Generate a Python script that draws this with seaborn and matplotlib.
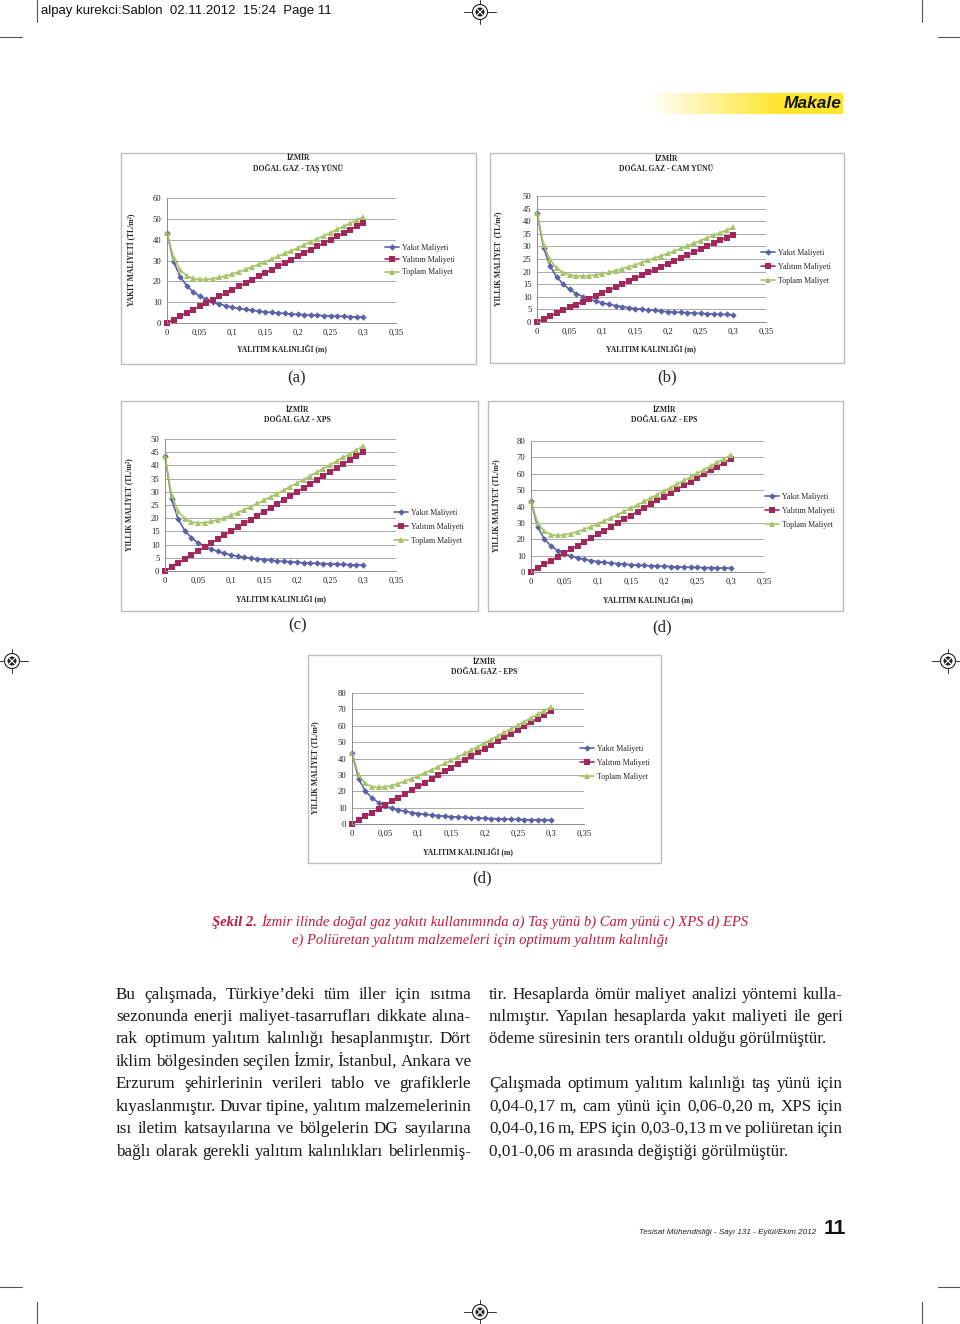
#!/usr/bin/env python3
# coding=utf-8
import matplotlib
matplotlib.use("Agg")
from matplotlib import pyplot as plt
from matplotlib.transforms import Affine2D
from matplotlib.patches import Rectangle, Circle
from matplotlib.lines import Line2D
from matplotlib.colors import LinearSegmentedColormap
import seaborn as sns
import pandas as pd
import numpy as np

# ---- data -------------------------------------------------------------------
THICKNESS = [0, 0.01, 0.02, 0.03, 0.04, 0.05, 0.06, 0.07, 0.08, 0.09, 0.10,
             0.11, 0.12, 0.13, 0.14, 0.15, 0.16, 0.17, 0.18, 0.19, 0.20,
             0.21, 0.22, 0.23, 0.24, 0.25, 0.26, 0.27, 0.28, 0.29, 0.30]

FUEL_TAS = [43.4, 29.5, 22.3, 17.9, 15.0, 12.9, 11.3, 10.1, 9.1, 8.3, 7.6, 7.0, 6.5, 6.1, 5.7, 5.3,
            5.1, 4.8, 4.6, 4.3, 4.1, 4.0, 3.8, 3.7, 3.5, 3.4, 3.3, 3.2, 3.0, 3.0, 2.9]
INS_TAS = [0, 1.6, 3.2, 4.8, 6.4, 8.0, 9.6, 11.2, 12.8, 14.4, 16.0, 17.6, 19.2, 20.8, 22.4, 24.0,
           25.6, 27.2, 28.8, 30.4, 32.0, 33.6, 35.2, 36.8, 38.4, 40.0, 41.6, 43.2, 44.8, 46.4, 48.0]
TOTAL_TAS = [43.4, 31.1, 25.5, 22.7, 21.4, 20.9, 20.9, 21.3, 21.9, 22.7, 23.6, 24.6, 25.7, 26.9, 28.1,
             29.3, 30.7, 32.0, 33.4, 34.7, 36.1, 37.6, 39.0, 40.5, 41.9, 43.4, 44.9, 46.4, 47.8, 49.4, 50.9]

FUEL_CAM = [43.4, 29.5, 22.3, 17.9, 15.0, 12.9, 11.3, 10.1, 9.1, 8.3, 7.6, 7.0, 6.5, 6.1, 5.7, 5.3,
            5.1, 4.8, 4.6, 4.3, 4.1, 4.0, 3.8, 3.7, 3.5, 3.4, 3.3, 3.2, 3.0, 3.0, 2.9]
INS_CAM = [0, 1.2, 2.3, 3.5, 4.6, 5.8, 6.9, 8.1, 9.3, 10.4, 11.6, 12.7, 13.9, 15.0, 16.2, 17.3,
           18.5, 19.7, 20.8, 22.0, 23.1, 24.3, 25.4, 26.6, 27.7, 28.9, 30.1, 31.2, 32.4, 33.5, 34.7]
TOTAL_CAM = [43.4, 30.7, 24.6, 21.4, 19.6, 18.7, 18.2, 18.2, 18.4, 18.7, 19.2, 19.7, 20.4, 21.1, 21.9,
             22.6, 23.6, 24.5, 25.4, 26.3, 27.2, 28.3, 29.2, 30.3, 31.2, 32.3, 33.4, 34.4, 35.4, 36.5, 37.6]

FUEL_XPS = [43.5, 27.1, 19.6, 15.3, 12.6, 10.7, 9.3, 8.3, 7.4, 6.7, 6.1, 5.6, 5.2, 4.9, 4.6, 4.3,
            4.1, 3.8, 3.6, 3.5, 3.3, 3.1, 3.0, 2.9, 2.8, 2.7, 2.6, 2.5, 2.4, 2.3, 2.3]
INS_XPS = [0, 1.5, 3.0, 4.5, 6.0, 7.5, 9.0, 10.5, 12.0, 13.5, 15.0, 16.5, 18.0, 19.5, 21.0, 22.5,
           24.0, 25.5, 27.0, 28.5, 30.0, 31.5, 33.0, 34.5, 36.0, 37.5, 39.0, 40.5, 42.0, 43.5, 45.0]
TOTAL_XPS = [43.5, 28.6, 22.6, 19.8, 18.6, 18.2, 18.3, 18.8, 19.4, 20.2, 21.1, 22.1, 23.2, 24.4, 25.6,
             26.8, 28.1, 29.3, 30.6, 32.0, 33.3, 34.6, 36.0, 37.4, 38.8, 40.2, 41.6, 43.0, 44.4, 45.8, 47.3]

FUEL_EPS = [43.3, 27.5, 20.2, 15.9, 13.1, 11.2, 9.7, 8.6, 7.7, 7.0, 6.4, 5.9, 5.5, 5.1, 4.8, 4.5,
            4.2, 4.0, 3.8, 3.6, 3.5, 3.3, 3.2, 3.0, 2.9, 2.8, 2.7, 2.6, 2.5, 2.5, 2.4]
INS_EPS = [0, 2.3, 4.6, 6.9, 9.2, 11.5, 13.8, 16.1, 18.4, 20.7, 23.0, 25.3, 27.6, 29.9, 32.2, 34.5,
           36.8, 39.1, 41.4, 43.7, 46.0, 48.3, 50.6, 52.9, 55.2, 57.5, 59.8, 62.1, 64.4, 66.7, 69.0]
TOTAL_EPS = [43.3, 29.8, 24.8, 22.8, 22.3, 22.7, 23.5, 24.7, 26.1, 27.7, 29.4, 31.2, 33.1, 35.0, 37.0,
             39.0, 41.0, 43.1, 45.2, 47.3, 49.5, 51.6, 53.8, 55.9, 58.1, 60.3, 62.5, 64.7, 66.9, 69.2, 71.4]

SERIES = ["Yakıt Maliyeti", "Yalıtım Maliyeti", "Toplam Maliyet"]
X_TICKS = [0, 0.05, 0.1, 0.15, 0.2, 0.25, 0.3, 0.35]
X_TICK_LABELS = ["0", "0,05", "0,1", "0,15", "0,2", "0,25", "0,3", "0,35"]

PANELS = [
    dict(name="DOĞAL GAZ - TAŞ YÜNÜ", ylabel="YAKIT MALİYETİ (TL/m²)", tag="(a)",
         data=(FUEL_TAS, INS_TAS, TOTAL_TAS), yticks=[0, 10, 20, 30, 40, 50, 60]),
    dict(name="DOĞAL GAZ - CAM YÜNÜ", ylabel="YILLIK MALİYET  (TL/m²)", tag="(b)",
         data=(FUEL_CAM, INS_CAM, TOTAL_CAM), yticks=[0, 5, 10, 15, 20, 25, 30, 35, 40, 45, 50]),
    dict(name="DOĞAL GAZ - XPS", ylabel="YILLIK MALİYET (TL/m²)", tag="(c)",
         data=(FUEL_XPS, INS_XPS, TOTAL_XPS), yticks=[0, 5, 10, 15, 20, 25, 30, 35, 40, 45, 50]),
    dict(name="DOĞAL GAZ - EPS", ylabel="YILLIK MALİYET (TL/m²)", tag="(d)",
         data=(FUEL_EPS, INS_EPS, TOTAL_EPS), yticks=[0, 10, 20, 30, 40, 50, 60, 70, 80]),
    dict(name="DOĞAL GAZ - EPS", ylabel="YILLIK MALİYET (TL/m²)", tag="(d)",
         data=(FUEL_EPS, INS_EPS, TOTAL_EPS), yticks=[0, 10, 20, 30, 40, 50, 60, 70, 80]),
]

CAPTION_BOLD = "Şekil 2."
CAPTION_1 = "İzmir ilinde doğal gaz yakıtı kullanımında a) Taş yünü b) Cam yünü c) XPS d) EPS"
CAPTION_2 = "e) Poliüretan yalıtım malzemeleri için optimum yalıtım kalınlığı"

LEFT_COLUMN = [
    "Bu çalışmada, Türkiye’deki tüm iller için ısıtma",
    "sezonunda enerji maliyet-tasarrufları dikkate alına-",
    "rak optimum yalıtım kalınlığı hesaplanmıştır. Dört",
    "iklim bölgesinden seçilen İzmir, İstanbul, Ankara ve",
    "Erzurum şehirlerinin verileri tablo ve grafiklerle",
    "kıyaslanmıştır. Duvar tipine, yalıtım malzemelerinin",
    "ısı iletim katsayılarına ve bölgelerin DG sayılarına",
    "bağlı olarak gerekli yalıtım kalınlıkları belirlenmiş-",
]
RIGHT_COLUMN = [
    "tir. Hesaplarda ömür maliyet analizi yöntemi kulla-",
    "nılmıştır. Yapılan hesaplarda yakıt maliyeti ile geri",
    "ödeme süresinin ters orantılı olduğu görülmüştür.",
    "",
    "Çalışmada optimum yalıtım kalınlığı taş yünü için",
    "0,04-0,17 m, cam yünü için 0,06-0,20 m, XPS için",
    "0,04-0,16 m, EPS için 0,03-0,13 m ve poliüretan için",
    "0,01-0,06 m arasında değiştiği görülmüştür.",
]

# ---- page geometry (pixels, origin top left) --------------------------------
W, H = 960, 1324
LAYOUT = [
    dict(box=(121, 153, 476, 364), axes=(167, 198, 396, 323), title=(298, 158), legend=(385, 260),
         xlab=(282, 350), ylab=(131, 260), tag=(297, 378), lspace=0.55),
    dict(box=(490, 153, 844, 363), axes=(537, 196, 766, 322), title=(666, 159), legend=(761, 267),
         xlab=(651, 350), ylab=(498, 259), tag=(667, 377), lspace=0.75),
    dict(box=(121, 401, 478, 611), axes=(165, 439, 396, 571), title=(297, 410), legend=(394, 527),
         xlab=(281, 600), ylab=(129, 505), tag=(298, 625), lspace=0.75),
    dict(box=(488, 401, 843, 611), axes=(531, 441, 764, 572), title=(664, 410), legend=(765, 511),
         xlab=(648, 601), ylab=(496, 506), tag=(662, 627), lspace=0.75),
    dict(box=(308, 655, 661, 863), axes=(352, 693, 584, 824), title=(484, 662), legend=(580, 763),
         xlab=(468, 853), ylab=(315, 768), tag=(482, 878), lspace=0.75),
]
COLORS = {"Yakıt Maliyeti": "#5A62A6", "Yalıtım Maliyeti": "#A2285C", "Toplam Maliyet": "#A8C46A"}
MARKERS = {"Yakıt Maliyeti": "D", "Yalıtım Maliyeti": "s", "Toplam Maliyet": "^"}
MSIZE = {"Yakıt Maliyeti": 3.3, "Yalıtım Maliyeti": 3.7, "Toplam Maliyet": 4.5}

SERIF = ["Liberation Serif", "DejaVu Serif"]
NARROW = ["Liberation Sans Narrow", "Liberation Sans", "DejaVu Sans"]
SANS = ["Liberation Sans", "DejaVu Sans"]
RED = "#C11B3C"

sns.set_style("white")
plt.rcParams["font.family"] = SERIF

fig = plt.figure(figsize=(W / 100, H / 100), dpi=100)
fig.patch.set_facecolor("white")
PX = Affine2D().scale(1 / W, -1 / H).translate(0, 1) + fig.transFigure


def px_rect(x0, y0, x1, y1):
    return [x0 / W, 1 - y1 / H, (x1 - x0) / W, (y1 - y0) / H]


def plot_panel(p, lay):
    df = pd.DataFrame({
        "x": THICKNESS * 3,
        "value": list(p["data"][0]) + list(p["data"][1]) + list(p["data"][2]),
        "series": [s for s in SERIES for _ in THICKNESS],
    })
    bx0, by0, bx1, by1 = lay["box"]
    fig.patches.append(Rectangle((bx0, by0), bx1 - bx0, by1 - by0, transform=PX,
                                 facecolor="white", edgecolor="#BDBDBD", lw=1.0, zorder=-5))
    ax = fig.add_axes(px_rect(*lay["axes"]))
    ax.set_facecolor("none")
    for s in SERIES:
        sns.lineplot(data=df[df["series"] == s], x="x", y="value", ax=ax, color=COLORS[s],
                     marker=MARKERS[s], markersize=MSIZE[s], markeredgewidth=0, linewidth=1.2,
                     clip_on=False, legend=False)
    ax.set_xlim(0, 0.35)
    ax.set_ylim(0, p["yticks"][-1])
    ax.set_xticks(X_TICKS, labels=X_TICK_LABELS)
    ax.set_yticks(p["yticks"])
    ax.tick_params(length=0, labelsize=6.2, pad=4, colors="#222222")
    ax.yaxis.grid(True, color="#A9A9A9", lw=0.7)
    ax.xaxis.grid(False)
    ax.set_axisbelow(True)
    for side in ("top", "right"):
        ax.spines[side].set_visible(False)
    for side in ("left", "bottom"):
        ax.spines[side].set_color("#8C8C8C")
        ax.spines[side].set_linewidth(0.7)

    ax.set_xlabel("YALITIM KALINLIĞI (m)", fontsize=5.5, fontweight="bold")
    ax.xaxis.set_label_coords(*lay["xlab"], transform=PX)
    ax.xaxis.label.set_va("center")
    ax.set_ylabel(p["ylabel"], fontsize=5.5, fontweight="bold")
    ax.yaxis.set_label_coords(*lay["ylab"], transform=PX)
    ax.yaxis.label.set_va("center")

    tx, ty = lay["title"]
    fig.text(tx, ty, "İZMİR", transform=PX, ha="center", va="center", fontsize=5.5, fontweight="bold")
    fig.text(tx, ty + 10, p["name"], transform=PX, ha="center", va="center", fontsize=5.5,
             fontweight="bold")

    handles = [Line2D([], [], color=COLORS[s], marker=MARKERS[s], markersize=MSIZE[s],
                      markeredgewidth=0, lw=1.2) for s in SERIES]
    lx, ly = lay["legend"]
    ax.legend(handles, SERIES, loc="center left", bbox_to_anchor=(lx / W, 1 - ly / H),
              bbox_transform=fig.transFigure, frameon=False, fontsize=5.8, borderpad=0,
              borderaxespad=0, handlelength=1.7, handletextpad=0.4, labelspacing=lay["lspace"])

    gx, gy = lay["tag"]
    fig.text(gx, gy, p["tag"], transform=PX, ha="center", va="center", fontsize=12)


for p, lay in zip(PANELS, LAYOUT):
    plot_panel(p, lay)

renderer = fig.canvas.get_renderer()


def text_width(t):
    return t.get_window_extent(renderer).width


def put_line(text, x0, x1, y, justify, **kw):
    words = text.split(" ")
    if not justify or len(words) < 2:
        fig.text(x0, y, text, transform=PX, ha="left", va="baseline", **kw)
        return
    arts = [fig.text(0, y, w, transform=PX, ha="left", va="baseline", **kw) for w in words]
    widths = [text_width(a) for a in arts]
    gap = (x1 - x0 - sum(widths)) / (len(words) - 1)
    x = x0
    for a, w in zip(arts, widths):
        a.set_x(x)
        x += w + gap


# caption
cap_kw = dict(fontsize=10.55, color=RED, style="italic", family=SERIF)
t_bold = fig.text(0, 926, CAPTION_BOLD, transform=PX, ha="left", va="baseline", fontweight="bold",
                  **cap_kw)
t_rest = fig.text(0, 926, CAPTION_1, transform=PX, ha="left", va="baseline", **cap_kw)
wb, wr = text_width(t_bold), text_width(t_rest)
start = 480 - (wb + 4 + wr) / 2
t_bold.set_x(start)
t_rest.set_x(start + wb + 4)
fig.text(480, 944, CAPTION_2, transform=PX, ha="center", va="baseline", **cap_kw)

# body text, two justified columns
body_kw = dict(fontsize=12.3, color="#1A1A1A", family=SERIF)
line_y = [999, 1021, 1043, 1066, 1088, 1111, 1133, 1156]
for i, line in enumerate(LEFT_COLUMN):
    put_line(line, 116, 471, line_y[i], True, **body_kw)
right_justify = [True, True, False, False, True, True, True, False]
for i, line in enumerate(RIGHT_COLUMN):
    if line:
        put_line(line, 489, 843, line_y[i], right_justify[i], **body_kw)

# header, crop marks, registration marks
fig.text(41, 11, "alpay kurekci:Sablon  02.11.2012  15:24  Page 11", transform=PX, ha="left",
         va="center", fontsize=9.5, family=NARROW, color="#111111")
crop = [((37, 0), (37, 22)), ((922, 0), (922, 22)), ((0, 37), (22, 37)), ((938, 37), (960, 37)),
        ((37, 1302), (37, 1324)), ((922, 1302), (922, 1324)), ((0, 1287), (22, 1287)),
        ((938, 1287), (960, 1287))]
for (x0, y0), (x1, y1) in crop:
    fig.lines.append(Line2D([x0, x1], [y0, y1], transform=PX, color="#555555", lw=0.8))
for cx, cy in [(480, 12), (12, 661), (948, 661), (480, 1312)]:
    fig.lines.append(Line2D([cx - 16, cx + 16], [cy, cy], transform=PX, color="#333333", lw=0.7))
    fig.lines.append(Line2D([cx, cx], [cy - 12, cy + 12], transform=PX, color="#333333", lw=0.7))
    fig.patches.append(Circle((cx, cy), 7.5, transform=PX, facecolor="white", edgecolor="#222222",
                              lw=0.8, zorder=3))
    fig.patches.append(Circle((cx, cy), 4.5, transform=PX, facecolor="#222222", lw=0, zorder=4))
    for dx in (-1, 1):
        fig.lines.append(Line2D([cx - 3, cx + 3], [cy - 3 * dx, cy + 3 * dx], transform=PX,
                                color="white", lw=0.8, zorder=5))

# "Makale" band
band = fig.add_axes(px_rect(648, 93, 843, 114))
band.imshow(np.clip(np.linspace(0, 1.5, 256), 0, 1)[None, :], aspect="auto",
            cmap=LinearSegmentedColormap.from_list("band", ["#FFFFFF", "#FFE62E"]))
band.set_axis_off()
fig.text(842, 103, "Makale", transform=PX, ha="right", va="center", fontsize=12.5,
         fontweight="bold", style="italic", family=NARROW, color="#1A1A1A")

# footer
fig.text(816, 1233, "Tesisat Mühendisliği - Sayı 131 - Eylül/Ekim 2012", transform=PX, ha="right",
         va="center", fontsize=5.9, style="italic", family=NARROW, color="#222222")
fig.text(824, 1229, "11", transform=PX, ha="left", va="center", fontsize=15, fontweight="bold",
         family=SANS, color="#111111")

fig.savefig("out.png", dpi=100)
